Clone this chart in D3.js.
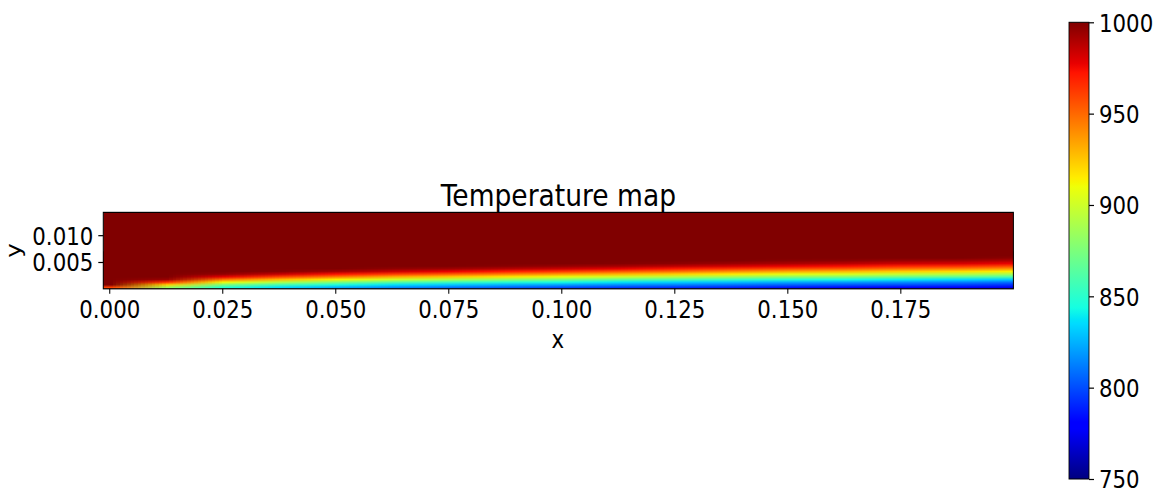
<!DOCTYPE html>
<html>
<head>
<meta charset="utf-8">
<script src="https://cdn.jsdelivr.net/npm/d3@7"></script>
<style>
  body { margin: 0; background: #fff; }
  svg { display: block; }
  text { font-family: "DejaVu Sans", sans-serif; fill: #000; }
</style>
</head>
<body>
<svg id="chart" width="1159" height="488"></svg>
<script>
// ---- data -------------------------------------------------------------
// x stations along the plate (m)
const xStations = [0, 0.0125, 0.025, 0.0375, 0.05, 0.0625, 0.075, 0.0875, 0.1,
                   0.1125, 0.125, 0.1375, 0.15, 0.1625, 0.175, 0.1875, 0.2];
// wall-normal cell centres (m), near-wall band only; above it the gas is at 1000 K
const yCenters = [0.00025, 0.00075, 0.00125, 0.00175, 0.00225, 0.00275, 0.00325,
                  0.00375, 0.00425, 0.00475, 0.00525, 0.00575, 0.00625, 0.00675];
// temperature (K), one column per x station, from the wall upwards
const temperatureColumns = [
  [960, 1000, 1000, 1000, 1000, 1000, 1000, 1000, 1000, 1000, 1000, 1000, 1000, 1000],
  [886, 922, 965, 994, 1000, 1000, 1000, 1000, 1000, 1000, 1000, 1000, 1000, 1000],
  [849, 874, 911, 947, 978, 996, 1000, 1000, 1000, 1000, 1000, 1000, 1000, 1000],
  [835, 858, 892, 928, 960, 985, 998, 1000, 1000, 1000, 1000, 1000, 1000, 1000],
  [824, 846, 877, 913, 945, 973, 992, 1000, 1000, 1000, 1000, 1000, 1000, 1000],
  [816, 837, 865, 901, 932, 962, 984, 996, 1000, 1000, 1000, 1000, 1000, 1000],
  [810, 831, 856, 892, 924, 953, 977, 993, 1000, 1000, 1000, 1000, 1000, 1000],
  [805, 825, 849, 883, 916, 944, 970, 988, 998, 1000, 1000, 1000, 1000, 1000],
  [800, 821, 844, 876, 908, 936, 963, 983, 995, 1000, 1000, 1000, 1000, 1000],
  [796, 816, 838, 868, 900, 929, 955, 977, 992, 999, 1000, 1000, 1000, 1000],
  [793, 813, 833, 862, 893, 922, 948, 971, 987, 997, 1000, 1000, 1000, 1000],
  [790, 809, 829, 855, 886, 915, 940, 964, 982, 994, 1000, 1000, 1000, 1000],
  [786, 805, 824, 849, 880, 908, 933, 958, 977, 991, 998, 1000, 1000, 1000],
  [783, 802, 821, 845, 876, 905, 929, 954, 974, 988, 997, 1000, 1000, 1000],
  [781, 800, 817, 840, 870, 898, 923, 947, 968, 984, 994, 1000, 1000, 1000],
  [778, 797, 814, 836, 866, 894, 919, 943, 965, 982, 993, 1000, 1000, 1000],
  [775, 793, 809, 831, 860, 888, 913, 937, 959, 977, 989, 997, 1000, 1000]
];
const freestreamTemperature = 1000;
const xExtent = [-0.00133, 0.2];
const yExtent = [0, 0.01425];
const xTicks = [0, 0.025, 0.05, 0.075, 0.1, 0.125, 0.15, 0.175];
const yTicks = [0.005, 0.010];
const colorTicks = [750, 800, 850, 900, 950, 1000];
const colorRange = [750, 1000];

// ---- jet colormap ------------------------------------------------------
const channel = pts => d3.scaleLinear()
  .domain(pts.map(p => p[0])).range(pts.map(p => p[1])).clamp(true);
const jetR = channel([[0, 0], [0.35, 0], [0.66, 1], [0.89, 1], [1, 0.5]]);
const jetG = channel([[0, 0], [0.125, 0], [0.375, 1], [0.64, 1], [0.91, 0], [1, 0]]);
const jetB = channel([[0, 0.5], [0.11, 1], [0.34, 1], [0.65, 0], [1, 0]]);
const jetRGB = t => [jetR(t), jetG(t), jetB(t)].map(v => Math.round(v * 255));
const jetCss = t => { const c = jetRGB(t); return `rgb(${c[0]},${c[1]},${c[2]})`; };
const norm = d3.scaleLinear().domain(colorRange).range([0, 1]).clamp(true);

// ---- layout ------------------------------------------------------------
const SX = 0.87;                 // horizontal condensing of the whole figure
const u = v => v / SX;
const svg = d3.select("#chart");
const root = svg.append("g").attr("transform", `scale(${SX},1)`);

const x = d3.scaleLinear().domain(xExtent).range([u(103.3), u(1013.4)]);
const y = d3.scaleLinear().domain(yExtent).range([288.8, 212.4]);
const [px0, px1] = x.range();
const [py0, py1] = [y.range()[1], y.range()[0]];

const TICK_FONT = 24.5;

// clip for the field
root.append("defs").append("clipPath").attr("id", "plotClip")
  .append("rect").attr("x", px0).attr("y", py0)
  .attr("width", px1 - px0).attr("height", py1 - py0);

const field = root.append("g").attr("clip-path", "url(#plotClip)");

// free stream background
field.append("rect")
  .attr("x", px0).attr("y", py0).attr("width", px1 - px0).attr("height", py1 - py0)
  .attr("fill", jetCss(norm(freestreamTemperature)));

// near-wall field as a small raster, smoothed when scaled up
const nx = xStations.length, ny = yCenters.length;
const cvs = document.createElement("canvas");
cvs.width = nx; cvs.height = ny;
const ctx = cvs.getContext("2d");
const imgData = ctx.createImageData(nx, ny);
temperatureColumns.forEach((col, i) => {
  col.forEach((T, j) => {
    const c = jetRGB(norm(T));
    const k = ((ny - 1 - j) * nx + i) * 4;
    imgData.data[k] = c[0]; imgData.data[k + 1] = c[1];
    imgData.data[k + 2] = c[2]; imgData.data[k + 3] = 255;
  });
});
ctx.putImageData(imgData, 0, 0);
const dx = xStations[1] - xStations[0];
const dy = yCenters[1] - yCenters[0];
const ix0 = x(xStations[0] - dx / 2), ix1 = x(xStations[nx - 1] + dx / 2);
const iyTop = y(yCenters[ny - 1] + dy / 2), iyBot = y(yCenters[0] - dy / 2);
field.append("image")
  .attr("href", cvs.toDataURL())
  .attr("x", ix0).attr("y", iyTop)
  .attr("width", ix1 - ix0).attr("height", iyBot - iyTop)
  .attr("preserveAspectRatio", "none")
  .style("image-rendering", "auto");

// frame
root.append("rect")
  .attr("x", px0).attr("y", py0).attr("width", px1 - px0).attr("height", py1 - py0)
  .attr("fill", "none").attr("stroke", "#000").attr("stroke-width", 1.2);

// axes
const styleAxis = g => {
  g.select(".domain").remove();
  g.selectAll(".tick line").attr("stroke", "#000").attr("stroke-width", 1.2);
  g.selectAll(".tick text").attr("font-size", TICK_FONT)
    .style("font-family", '"DejaVu Sans", sans-serif').attr("fill", "#000");
};

root.append("g").attr("transform", `translate(0,${py1})`)
  .call(d3.axisBottom(x).tickValues(xTicks).tickFormat(d3.format(".3f"))
    .tickSize(5).tickPadding(6))
  .call(styleAxis)
  .call(g => g.selectAll(".tick text").attr("dy", null).attr("y", 29.5));

root.append("g").attr("transform", `translate(${px0},0)`)
  .call(d3.axisLeft(y).tickValues(yTicks).tickFormat(d3.format(".3f"))
    .tickSize(u(5)).tickPadding(u(5)))
  .call(styleAxis)
  .call(g => g.selectAll(".tick text").attr("dy", "0.36em"));

// axis labels and title
root.append("text")
  .attr("x", (px0 + px1) / 2 - u(0.5)).attr("y", 348)
  .attr("text-anchor", "middle").attr("font-size", TICK_FONT).text("x");
root.append("text")
  .attr("transform", `translate(${u(21)},${(py0 + py1) / 2}) rotate(-90)`)
  .attr("text-anchor", "middle").attr("font-size", TICK_FONT).text("y");
root.append("text")
  .attr("x", (px0 + px1) / 2).attr("y", 206)
  .attr("text-anchor", "middle").attr("font-size", 30.5).text("Temperature map");

// ---- colorbar ----------------------------------------------------------
const cbX0 = u(1069), cbX1 = u(1089);
const cScale = d3.scaleLinear().domain(colorRange).range([479, 22.3]);
const jetStops = [0, 0.11, 0.125, 0.34, 0.35, 0.375, 0.64, 0.65, 0.66, 0.89, 0.91, 1];
const grad = root.select("defs").append("linearGradient")
  .attr("id", "jetGrad").attr("x1", 0).attr("y1", 1).attr("x2", 0).attr("y2", 0);
grad.selectAll("stop").data(jetStops).join("stop")
  .attr("offset", d => d).attr("stop-color", d => jetCss(d));
root.append("rect")
  .attr("x", cbX0).attr("y", cScale(colorRange[1]))
  .attr("width", cbX1 - cbX0).attr("height", cScale(colorRange[0]) - cScale(colorRange[1]))
  .attr("fill", "url(#jetGrad)").attr("stroke", "#000").attr("stroke-width", 1);
root.append("g").attr("transform", `translate(${cbX1},0)`)
  .call(d3.axisRight(cScale).tickValues(colorTicks).tickFormat(d3.format("d"))
    .tickSize(u(5)).tickPadding(u(5)))
  .call(styleAxis)
  .call(g => g.selectAll(".tick text").attr("dy", "0.36em"));
</script>
</body>
</html>
